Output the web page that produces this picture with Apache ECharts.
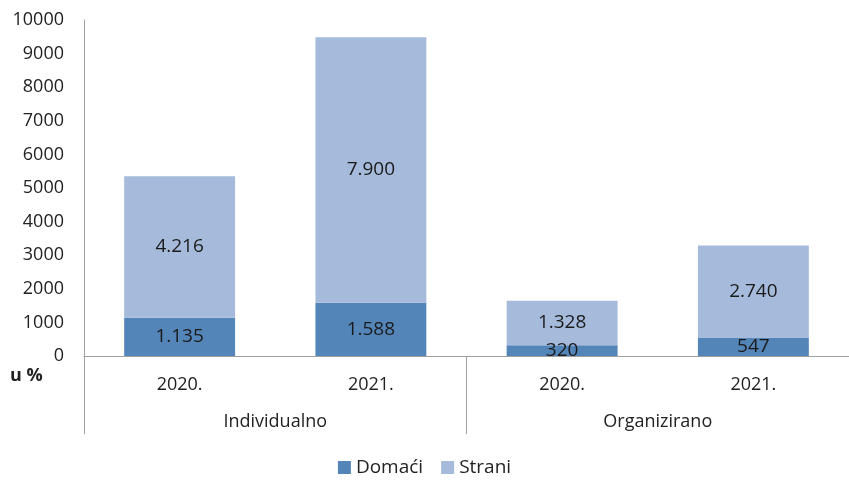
<!DOCTYPE html>
<html>
<head>
<meta charset="utf-8">
<script src="https://cdn.jsdelivr.net/npm/echarts@6/dist/echarts.min.js"></script>
<style>
    html, body { margin: 0; padding: 0; background: #fff; }
    #chart { width: 849px; height: 488px; }
</style>
</head>
<body>
<div id="chart"></div>
<script>
    // podaci
    var years = ['2020.', '2021.', '2020.', '2021.']
    var groups = ['Individualno', 'Organizirano']
    var domaci = [1135, 1588, 320, 547]
    var strani = [4216, 7900, 1328, 2740]

    var fontFam = '"Open Sans", "Noto Sans", sans-serif'

    function fmt (v) {
        // 1135 -> 1.135
        return String(v).replace(/\B(?=(\d{3})+(?!\d))/g, '.')
    }

    var chart = echarts.init(document.getElementById('chart'))
    chart.setOption({
        animation: false,
        textStyle: { fontFamily: fontFam },
        grid: {
            left: 84,
            right: -9,
            top: 20,
            bottom: 132
        },
        legend: {
            data: ['Domaći', 'Strani'],
            bottom: 6,
            left: 'center',
            itemWidth: 13,
            itemHeight: 13,
            itemGap: 18,
            icon: 'rect',
            textStyle: { fontSize: 19, color: '#222', fontFamily: fontFam }
        },
        xAxis: [{
            type: 'category',
            data: years,
            axisLine: { lineStyle: { color: '#a0a0a0', width: 1 } },
            axisTick: { show: false },
            axisLabel: { fontSize: 18, color: '#222', margin: 20 }
        }, {
            type: 'category',
            data: groups,
            position: 'bottom',
            axisLine: { show: false },
            axisTick: {
                show: true,
                interval: 0,
                length: 78,
                lineStyle: { color: '#a0a0a0' }
            },
            axisLabel: { fontSize: 18, color: '#222', margin: 57 }
        }],
        yAxis: {
            type: 'value',
            min: 0,
            max: 10000,
            interval: 1000,
            axisLine: { show: true, lineStyle: { color: '#a0a0a0' } },
            axisTick: { show: false },
            splitLine: { show: false },
            axisLabel: {
                fontSize: 18,
                color: '#222',
                margin: 20,
                formatter: function (v) { return String(v) }
            }
        },
        graphic: [{
            type: 'text',
            left: 10,
            top: 367,
            style: {
                text: 'u %',
                font: 'bold 18px ' + fontFam,
                fill: '#222'
            }
        }],
        series: [{
            name: 'Domaći',
            type: 'bar',
            stack: 'ukupno',
            barWidth: '58%',
            data: domaci,
            itemStyle: { color: '#5485b8' },
            label: {
                show: true,
                position: 'inside',
                fontSize: 19,
                color: '#1a1a1a',
                formatter: function (p) { return fmt(p.value) }
            }
        }, {
            name: 'Strani',
            type: 'bar',
            stack: 'ukupno',
            data: strani,
            itemStyle: { color: '#a6badb' },
            label: {
                show: true,
                position: 'inside',
                fontSize: 19,
                color: '#1a1a1a',
                formatter: function (p) { return fmt(p.value) }
            }
        }]
    })
</script>
</body>
</html>
